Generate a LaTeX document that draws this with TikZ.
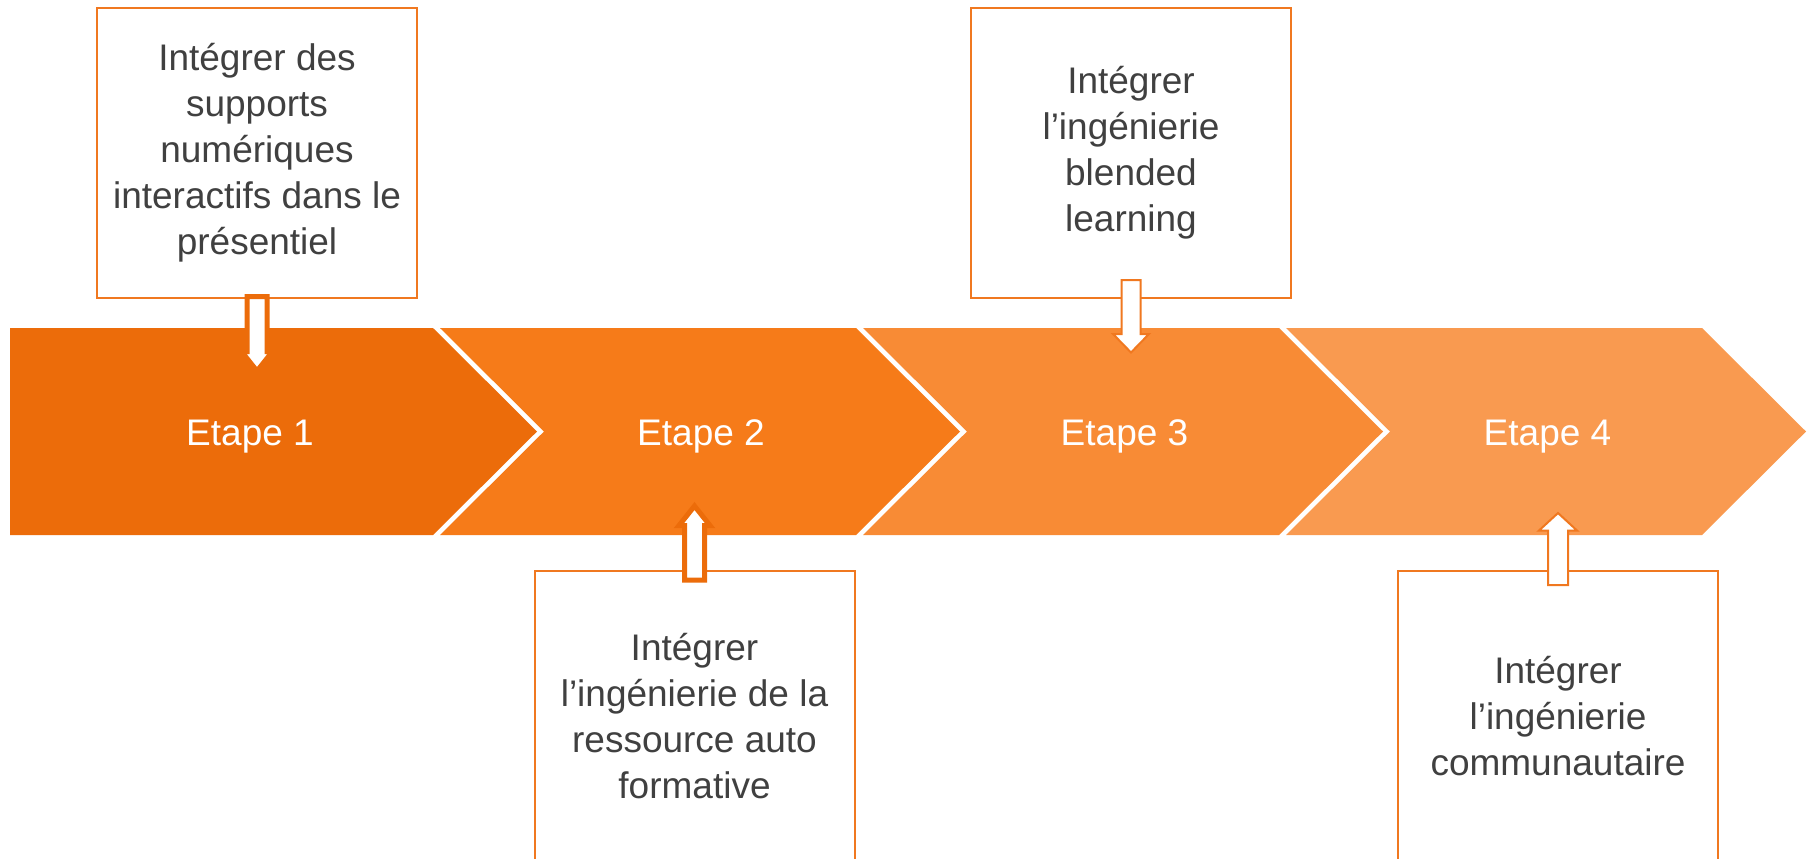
\documentclass[tikz,border=0pt]{standalone}
\usepackage{fontspec}
\setmainfont{Liberation Sans}
\usetikzlibrary{calc}

\definecolor{etapeA}{HTML}{EC6C0A}
\definecolor{etapeB}{HTML}{F67B19}
\definecolor{etapeC}{HTML}{F88B35}
\definecolor{etapeD}{HTML}{F99A50}
\definecolor{boxline}{HTML}{F07820}
\definecolor{textgray}{HTML}{404040}

\tikzset{
    textbox/.style={draw=boxline, line width=1pt, fill=white,
        minimum width=160pt, minimum height=145pt, inner sep=0pt,
        align=center, text=textgray, font=\fontsize{18.5}{23}\selectfont},
    steplabel/.style={text=white, anchor=base, font=\fontsize{18.5}{23}\selectfont},
    blockarrow/.style={fill=white, line join=miter},
    thickarrow/.style={draw=etapeA, line width=2.5pt},
    thinarrow/.style={draw=boxline, line width=1pt}
}

% block arrow: [style]{from}{to}{shaft half width}{head half width}{head length}
\newcommand{\blockarrow}[6][]{%
    \draw[blockarrow,#1] let \p1=(#2), \p2=(#3), \p3=($(#3)!#6!(#2)$) in
        (\x1-#4,\y1) -- (\x1-#4,\y3) -- (\x1-#5,\y3) -- (\x2,\y2)
        -- (\x1+#5,\y3) -- (\x1+#4,\y3) -- (\x1+#4,\y1) -- cycle;%
}

\begin{document}
\begin{tikzpicture}[x=0.5pt, y=-0.5pt]
    \clip (0,0) rectangle (1810,858);
    \fill[white] (0,0) rectangle (1810,858);
    % Chevrons
    \fill[etapeA] (10,328) -- (433,328) -- (537,431.5) -- (433,535) -- (10,535) -- cycle;
    \fill[etapeB] (440,328) -- (856,328) -- (960,431.5) -- (856,535) -- (440,535) -- (544,431.5) -- cycle;
    \fill[etapeC] (863,328) -- (1279,328) -- (1383,431.5) -- (1279,535) -- (863,535) -- (967,431.5) -- cycle;
    \fill[etapeD] (1286,328) -- (1702,328) -- (1806,431.5) -- (1702,535) -- (1286,535) -- (1390,431.5) -- cycle;

    % Boxes
    \node [textbox] (box1) at (257,152.5)
        {Intégrer des\\supports\\numériques\\interactifs dans le\\présentiel};
    \node [textbox] (box2) at (694.5,716)
        {Intégrer\\l’ingénierie de la\\ressource auto\\formative};
    \node [textbox] (box3) at (1131,152.5)
        {Intégrer\\l’ingénierie\\blended\\learning};
    \node [textbox] (box4) at (1558,716)
        {Intégrer\\l’ingénierie\\communautaire};

    % Arrows from the boxes
    \coordinate (a1top) at ($(box1.south)+(0,-2)$);
    \coordinate (a1tip) at ($(box1.south)+(0,72.5)$);
    \blockarrow[thickarrow]{a1top}{a1tip}{5pt}{7.75pt}{9.75pt}
    \coordinate (a2bot) at ($(box2.north)+(0,10)$);
    \coordinate (a2tip) at ($(box2.north)+(0,-64)$);
    \blockarrow[thickarrow]{a2bot}{a2tip}{5pt}{7.75pt}{9.75pt}
    \coordinate (a3top) at ($(box3.south)+(0,-18.5)$);
    \coordinate (a3tip) at ($(box3.south)+(0,54)$);
    \blockarrow[thinarrow]{a3top}{a3tip}{4.75pt}{9pt}{9.25pt}
    \coordinate (a4bot) at ($(box4.north)+(0,15)$);
    \coordinate (a4tip) at ($(box4.north)+(0,-57)$);
    \blockarrow[thinarrow]{a4bot}{a4tip}{5pt}{9.5pt}{8.75pt}

    % Step labels
    \node [steplabel] (etape1) at (250,445) {Etape 1};
    \node [steplabel] (etape2) at (701,445) {Etape 2};
    \node [steplabel] (etape3) at (1124.5,445) {Etape 3};
    \node [steplabel] (etape4) at (1547.5,445) {Etape 4};
\end{tikzpicture}
\end{document}
